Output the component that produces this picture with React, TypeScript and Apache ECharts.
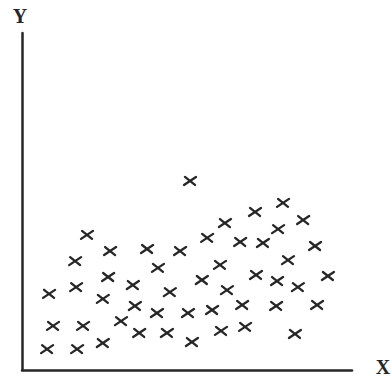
import React, { useEffect, useRef } from "react";
import * as echarts from "echarts";

// Horizontal position of each observation (0–100 scale)
const xValues: number[] = [
  19.7, 26.7, 37.9, 47.9, 16.1, 41.2, 26.1, 8.2, 16.4, 33.6,
  24.5, 44.8, 34.2, 40.9, 50.3, 9.4, 18.5, 30.0, 35.5, 43.9,
  51.5, 7.6, 16.7, 24.5, 50.9, 61.5, 56.1, 70.6, 79.1, 85.2,
  66.1, 73.0, 77.6, 88.8, 60.0, 80.6, 54.5, 62.1, 70.9, 77.3,
  83.6, 92.7, 57.6, 66.7, 77.0, 89.4, 60.3, 67.6, 82.7,
];

// Vertical position of each observation (0–100 scale)
const yValues: number[] = [
  40.1, 35.3, 35.9, 35.3, 32.3, 30.3, 27.6, 22.6, 24.6, 25.2,
  21.1, 23.1, 19.0, 16.9, 16.9, 13.1, 13.1, 14.5, 11.0, 11.0,
  8.3, 6.2, 6.2, 8.0, 56.1, 43.6, 39.2, 46.9, 49.6, 44.5,
  38.0, 37.7, 41.8, 36.8, 31.2, 32.6, 26.7, 23.7, 28.2, 26.4,
  24.6, 27.9, 17.8, 19.3, 19.0, 19.3, 11.6, 12.8, 10.7,
];

const axisNames = { x: "X", y: "Y" };

const INK = "#262626";
const FONT = "'Liberation Serif', 'DejaVu Serif', serif";

export default function App() {
  const ref = useRef<HTMLDivElement>(null);

  useEffect(() => {
    if (!ref.current) return;
    const chart = echarts.init(ref.current, null, { renderer: "svg" });

    const points = xValues.map((x, i) => [x, yValues[i]]);

    const nameStyle = {
      fill: INK,
      font: `bold 20px ${FONT}`,
      align: "center",
      verticalAlign: "middle",
    };

    const bareAxis = {
      type: "value",
      min: 0,
      max: 100,
      axisLine: { show: true, lineStyle: { color: INK, width: 2.5 } },
      axisTick: { show: false },
      axisLabel: { show: false },
      splitLine: { show: false },
    };

    chart.setOption({
      animation: false,
      backgroundColor: "#ffffff",
      grid: { left: 22, top: 33, right: 39, bottom: 13 },
      xAxis: bareAxis,
      yAxis: bareAxis,
      graphic: [
        { type: "text", x: 20, y: 16, style: { ...nameStyle, text: axisNames.y } },
        { type: "text", x: 383, y: 367, style: { ...nameStyle, text: axisNames.x } },
      ],
      series: [
        {
          type: "custom",
          data: points,
          renderItem: (params: any, api: any) => {
            const [cx, cy] = api.coord([api.value(0), api.value(1)]);
            const style = {
              stroke: INK,
              lineWidth: 2.3,
              lineCap: "round",
            };
            return {
              type: "group",
              children: [
                {
                  type: "line",
                  shape: { x1: cx - 6, y1: cy + 4, x2: cx + 6, y2: cy - 4 },
                  style,
                },
                {
                  type: "line",
                  shape: { x1: cx - 5, y1: cy - 4, x2: cx + 5, y2: cy + 4 },
                  style,
                },
              ],
            };
          },
        },
      ],
    });

    return () => chart.dispose();
  }, []);

  return (
    <div
      ref={ref}
      style={{ position: "absolute", left: 0, top: 0, width: 391, height: 383 }}
    />
  );
}
